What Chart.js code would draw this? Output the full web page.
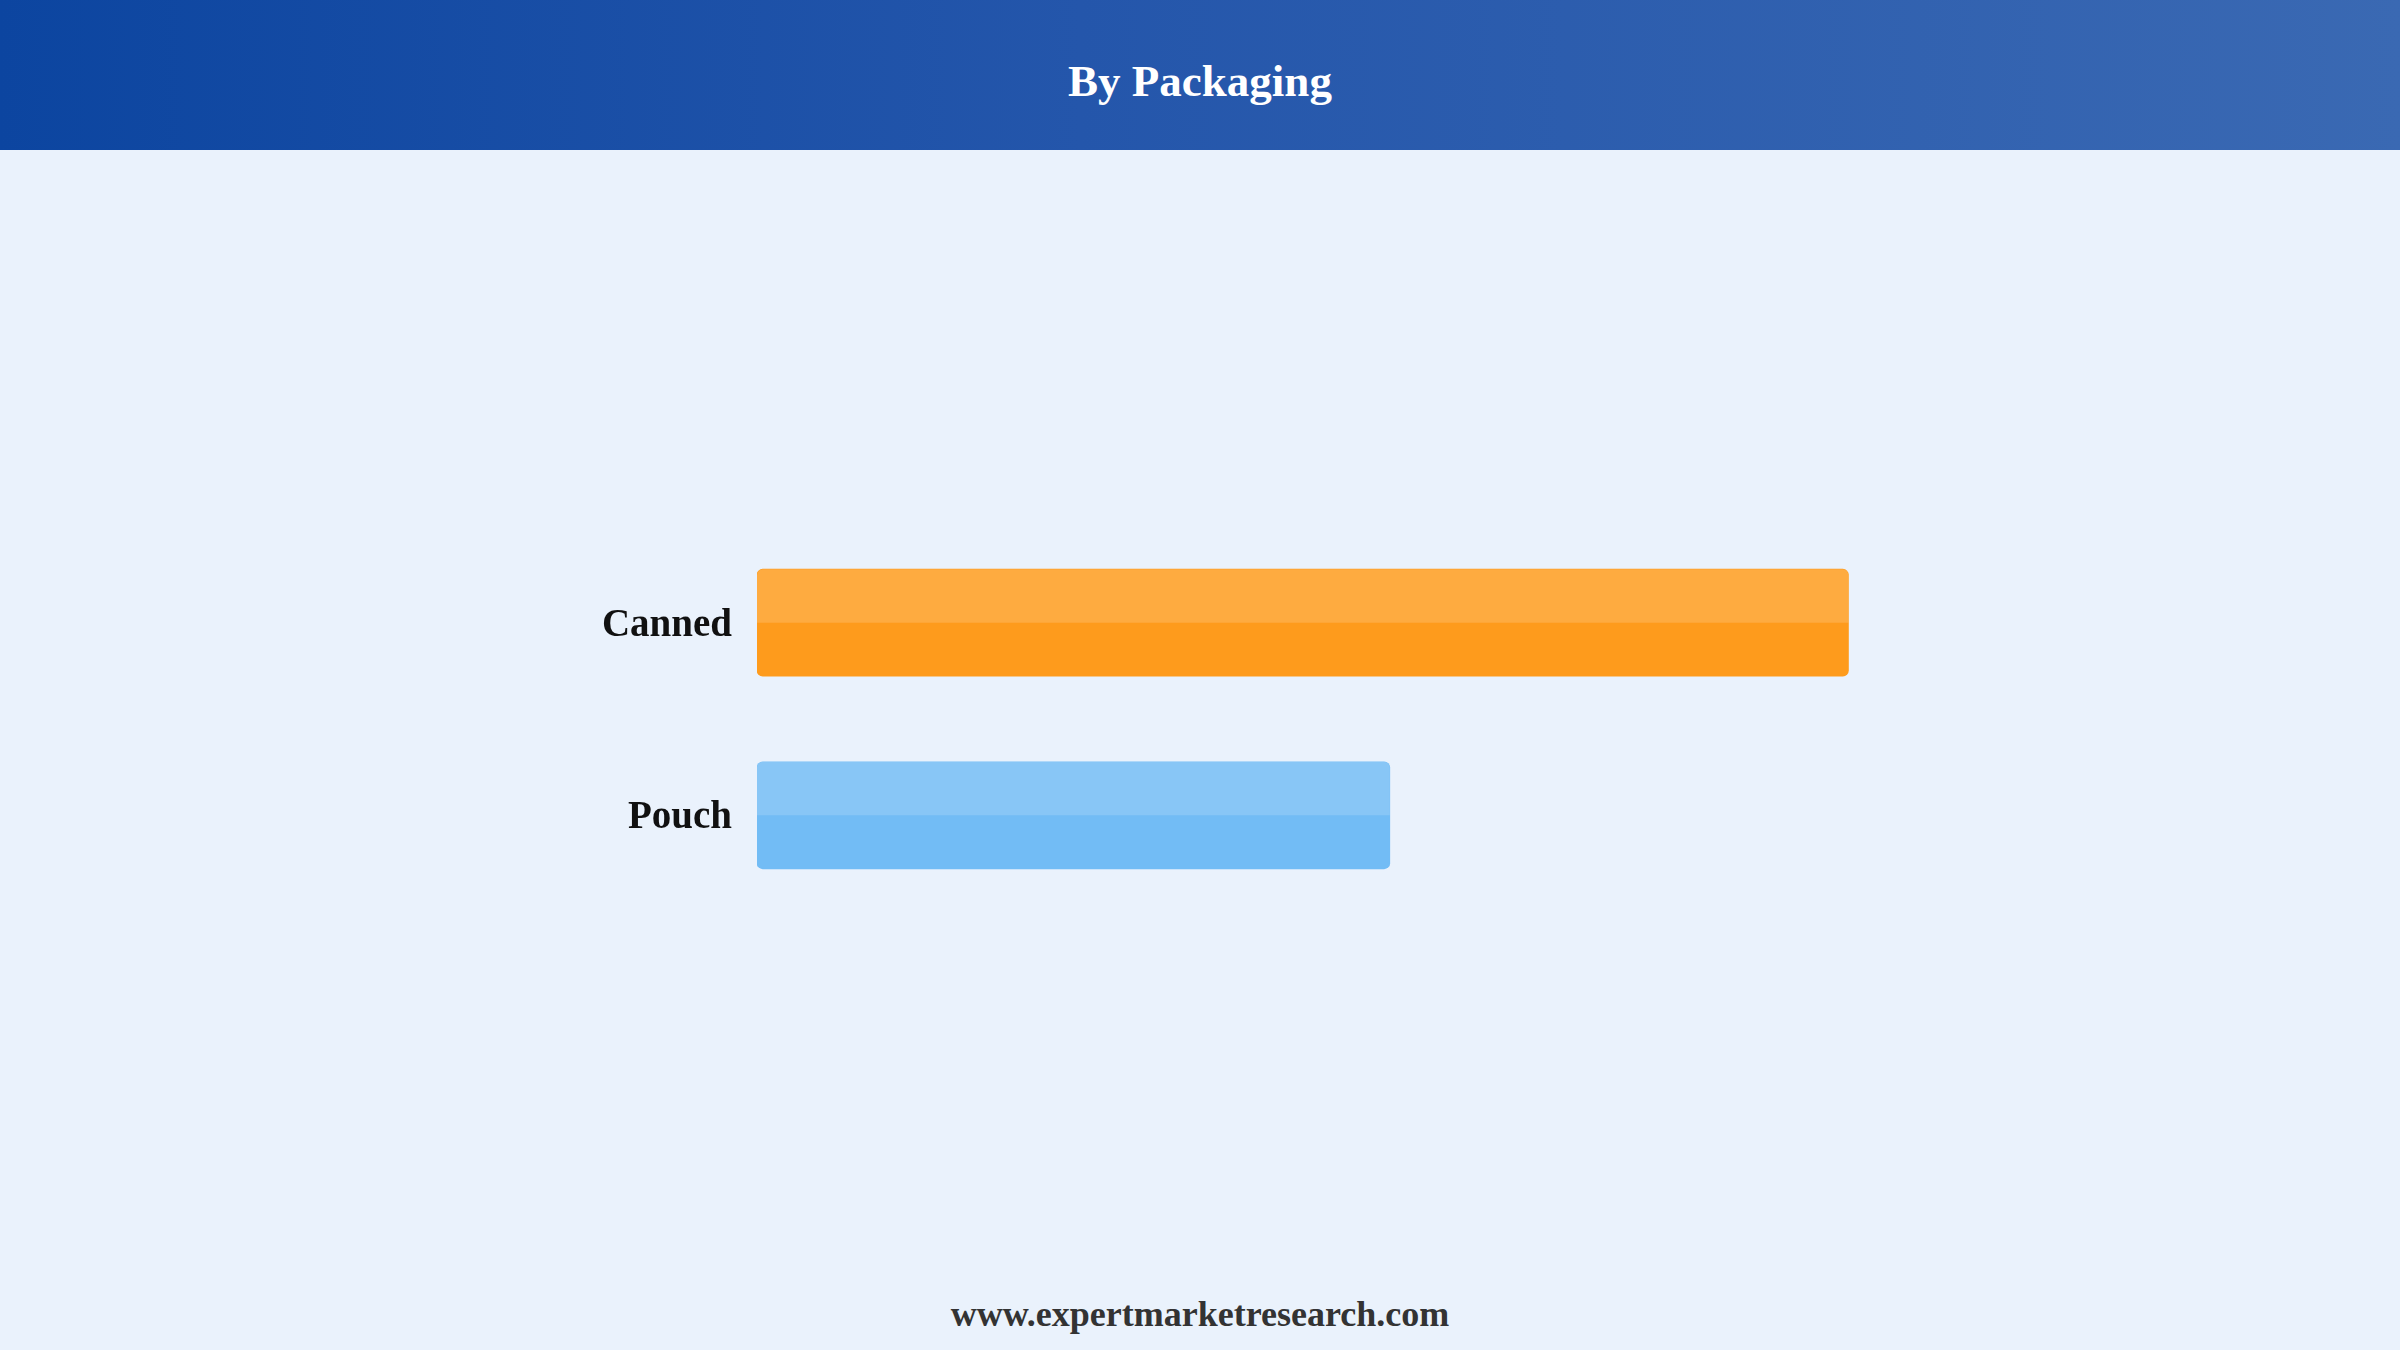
<!DOCTYPE html>
<html>
<head>
<meta charset="utf-8">
<script src="https://cdn.jsdelivr.net/npm/chart.js@4"></script>
<style>
  html, body { margin: 0; padding: 0; }
  body {
    width: 2400px; height: 1350px; position: relative; overflow: hidden;
    background: #eaf2fc;
    font-family: 'Liberation Serif', 'Times New Roman', serif;
  }
  .header {
    position: absolute; left: 0; top: 0; width: 2400px; height: 150px;
    background: linear-gradient(90deg, #0c45a0 0%, #2456ab 45%, #3a69b3 100%);
    color: #fff; text-align: center; line-height: 150px;
    font-size: 45px; font-weight: bold;
  }
  .header span { position: relative; top: 6px; }
  .chart-box { position: absolute; left: 557px; top: 478px; width: 1407px; height: 482px; }
  .footer {
    position: absolute; left: 0; top: 1290px; width: 2400px; height: 48px;
    line-height: 48px; text-align: center;
    font-size: 36px; font-weight: bold; color: #333;
  }
</style>
</head>
<body>
<div class="header"><span>By Packaging</span></div>
<div class="chart-box"><canvas id="packChart"></canvas></div>
<div class="footer">www.expertmarketresearch.com</div>

<script>
// ── data ─────────────────────────────────────────────────
const CATEGORIES = ['Canned', 'Pouch'];
const SHARES     = [63.3, 36.7];
const BAR_COLORS = ['#fe9b1c', '#72bcf5'];

// ── helper: light upper half on each bar ─────────────────
const topGlow = {
  id: 'topGlow',
  afterDatasetsDraw(chart) {
    const ctx = chart.ctx;
    chart.getDatasetMeta(0).data.forEach(bar => {
      const { x, y, base, height } = bar.getProps(['x', 'y', 'base', 'height'], true);
      const left = Math.min(x, base), w = Math.abs(x - base);
      ctx.save();
      ctx.fillStyle = 'rgba(255,255,255,0.16)';
      ctx.beginPath();
      ctx.roundRect(left, y - height / 2, w, height / 2, [6, 6, 0, 0]);
      ctx.fill();
      ctx.restore();
    });
  },
};

new Chart(document.getElementById('packChart'), {
  type: 'bar',
  data: {
    labels: CATEGORIES,
    datasets: [{
      data: SHARES,
      backgroundColor: BAR_COLORS,
      borderRadius: 6,
      borderSkipped: false,
      barThickness: 107,
    }],
  },
  options: {
    indexAxis: 'y',
    responsive: true,
    maintainAspectRatio: false,
    animation: false,
    layout: { padding: 0 },
    plugins: {
      legend: { display: false },
      tooltip: { enabled: false },
    },
    scales: {
      x: { display: false, min: 0, max: 70 },
      y: {
        grid: { display: false, drawTicks: false },
        border: { display: false },
        ticks: {
          color: '#111',
          padding: 25,
          labelOffset: 3,
          font: { family: "'Liberation Serif', 'Times New Roman', serif", size: 39, weight: 'bold' },
        },
        afterFit: s => { s.width = 200; },
      },
    },
  },
  plugins: [topGlow],
});
</script>
</body>
</html>
